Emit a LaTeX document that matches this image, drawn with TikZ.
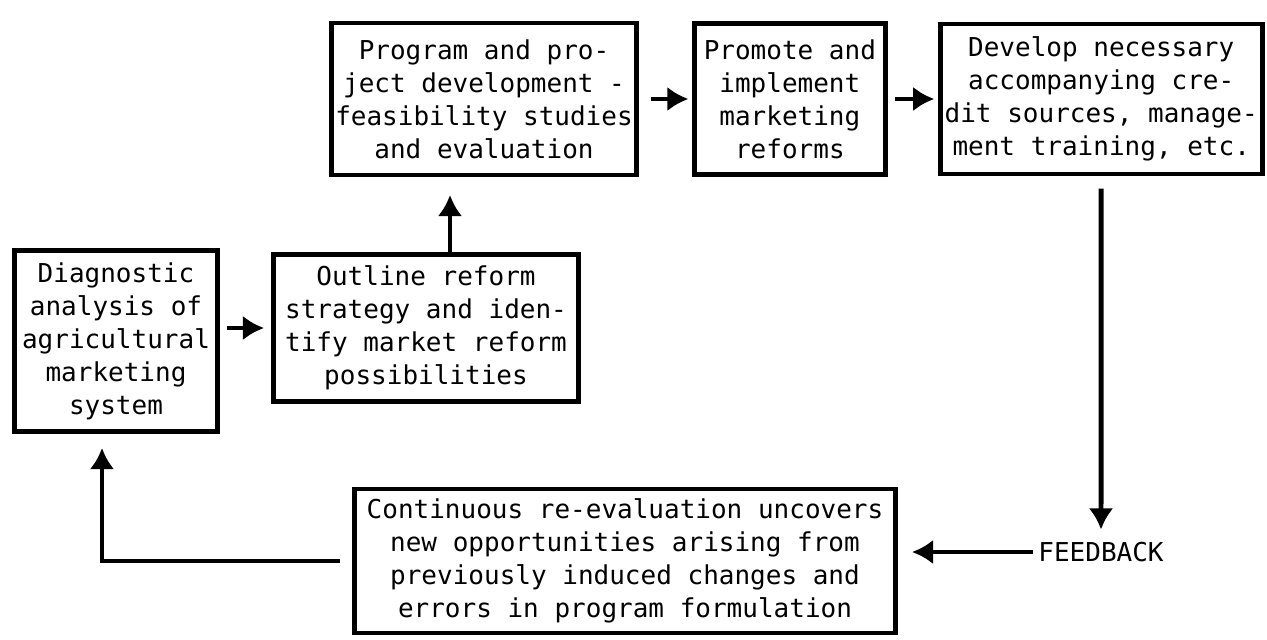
\documentclass[tikz,border=0pt]{standalone}
\usepackage{fontspec}
\setmonofont{DejaVu Sans Mono}
\tikzset{every picture/.style={/utils/exec={\ttfamily}}}
\usetikzlibrary{arrows.meta}
\usetikzlibrary{positioning}

\begin{document}
\begin{tikzpicture}[x=0.02cm, y=-0.02cm, >={Latex[length=12pt,width=14pt]},
  every node/.style={font=\ttfamily\fontsize{14.8}{18.8}\selectfont, align=center, inner sep=2pt},
  box/.style={draw, line width=2.8pt}]
  \useasboundingbox (0,0) rectangle (1267,639);

  \node [box, minimum width=4.06cm, minimum height=3.62cm] (diagnostic) at (116,341) {Diagnostic\\analysis of\\agricultural\\marketing\\system};
  \node [box, minimum width=6.1cm, minimum height=2.94cm] (outline) at (426,328) {Outline reform\\strategy and iden-\\tify market reform\\possibilities};

  \node [box, minimum width=6.1cm, minimum height=3.04cm] (program) at (484,99) {Program and pro-\\ject development -\\feasibility studies\\and evaluation};
  \node [box, minimum width=3.82cm, minimum height=3.02cm, right=1.06cm of program] (promote) {Promote and\\implement\\marketing\\reforms};
  \node [box, minimum width=6.44cm, minimum height=3.0cm, right=1.0cm of promote] (develop) {Develop necessary\\accompanying cre-\\dit sources, manage-\\ment training, etc.};

  \node (feedback) at (1101,552) {FEEDBACK};
  \node [box, minimum width=10.82cm, minimum height=2.88cm] (continuous) at (625,561) {Continuous re-evaluation uncovers\\new opportunities arising from\\previously induced changes and\\errors in program formulation};

  \coordinate (up) at ([xshift=0.48cm]outline.north);
  \coordinate (back) at ([xshift=-0.28cm]diagnostic.south);

  \draw [line width=2.8pt] (diagnostic.east |- outline) edge [->, shorten <=4pt, shorten >=4pt] (outline)
    (up) edge [->, shorten >=10pt] (up |- program.south)
    (program) edge [->, shorten <=7pt, shorten >=2pt] (promote)
    (promote) edge [->, shorten <=4pt, shorten >=2pt] (develop)
    (develop) edge [->, shorten <=7pt, shorten >=5pt] (feedback)
    (feedback.west) edge [->, shorten <=1pt, shorten >=8pt] (feedback.west -| continuous.east);
  \draw [->, line width=2.8pt, shorten <=7pt, shorten >=8pt] (continuous.west) -| (back);

\end{tikzpicture}
\end{document}
